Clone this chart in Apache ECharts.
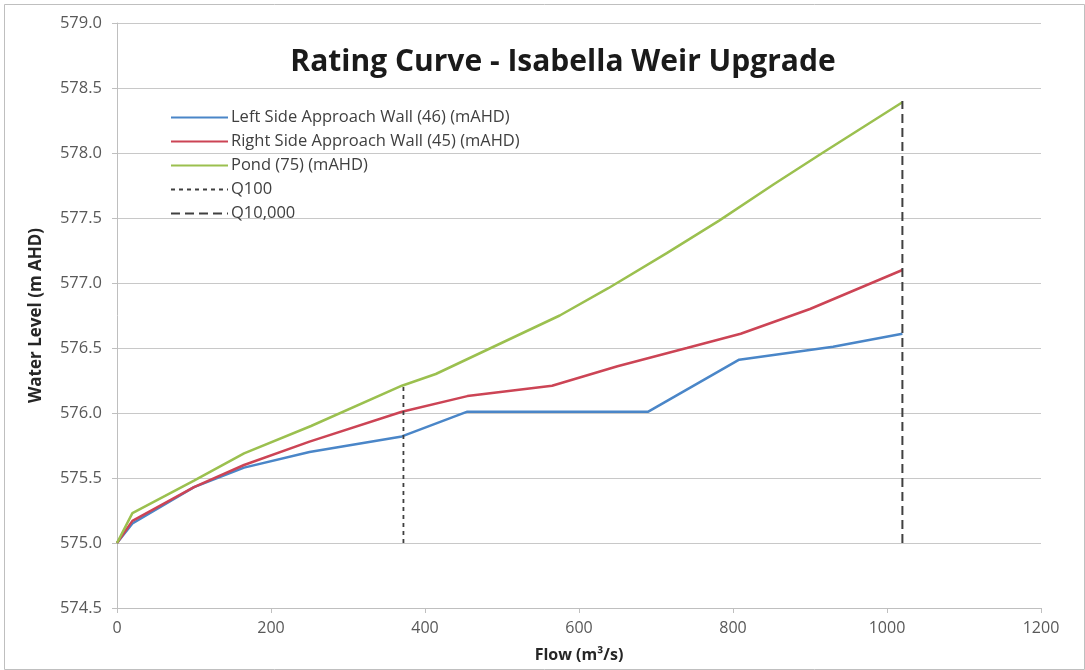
<!DOCTYPE html>
<html>
<head>
<meta charset="utf-8">
<script src="https://cdn.jsdelivr.net/npm/echarts@6/dist/echarts.min.js"></script>
<style>
html,body{margin:0;padding:0;background:#fff;}
#chart{width:1085px;height:670px;}
</style>
</head>
<body>
<div id="chart"></div>
<script>
// Flow (m3/s) and water levels (mAHD)
const leftFlow  = [0, 20, 100, 165, 250, 370, 455, 690, 808, 930, 1020];
const leftLevel = [575.0, 575.15, 575.43, 575.58, 575.70, 575.82, 576.01, 576.01, 576.41, 576.51, 576.61];

const rightFlow  = [0, 20, 100, 165, 250, 370, 455, 565, 650, 740, 810, 900, 1020];
const rightLevel = [575.0, 575.17, 575.43, 575.60, 575.78, 576.01, 576.13, 576.21, 576.36, 576.50, 576.61, 576.80, 577.10];

const pondFlow  = [0, 20, 100, 165, 252, 370, 414, 575, 638, 714, 782, 853, 916, 1020];
const pondLevel = [575.0, 575.23, 575.48, 575.69, 575.90, 576.21, 576.30, 576.75, 576.96, 577.23, 577.48, 577.76, 578.00, 578.39];

const q100Flow  = [372, 372];
const q100Level = [575.0, 576.22];
const q10kFlow  = [1020, 1020];
const q10kLevel = [575.0, 578.40];

const seriesNames = ['Left Side Approach Wall (46) (mAHD)', 'Right Side Approach Wall (45) (mAHD)', 'Pond (75) (mAHD)', 'Q100', 'Q10,000'];
const xTicks = {min: 0, max: 1200, interval: 200};
const yTicks = {min: 574.5, max: 579.0, interval: 0.5};

const zip = (a, b) => a.map((v, i) => [v, b[i]]);

const chart = echarts.init(document.getElementById('chart'));
const labelColor = '#595959';
const fontFam = 'Open Sans';
chart.setOption({
  backgroundColor: '#fff',
  animation: false,
  graphic: [{
    type: 'rect', left: 2, top: 2, shape: {width: 1080, height: 665},
    style: {fill: 'none', stroke: '#bfbfbf', lineWidth: 1}, silent: true
  }],
  title: {
    text: 'Rating Curve - Isabella Weir Upgrade',
    left: 558, top: 42, textAlign: 'center',
    textStyle: {fontFamily: fontFam, fontSize: 30, fontWeight: 'bold', color: '#1a1a1a'}
  },
  legend: {
    orient: 'vertical', left: 165, top: 104, itemWidth: 57, itemHeight: 14, itemGap: 7,
    data: seriesNames,
    itemStyle: {opacity: 0},
    textStyle: {fontFamily: fontFam, fontSize: 16.5, lineHeight: 17, color: '#404040', padding: [0,0,0,-2]}
  },
  grid: {left: 117, right: 44, top: 23, bottom: 62, containLabel: false},
  xAxis: {
    type: 'value', min: xTicks.min, max: xTicks.max, interval: xTicks.interval,
    name: 'Flow (m³/s)', nameLocation: 'middle', nameGap: 39,
    nameTextStyle: {fontFamily: fontFam, fontSize: 16, fontWeight: 'bold', color: '#262626'},
    axisLine: {show: true, lineStyle: {color: '#bfbfbf'}},
    axisTick: {show: true, length: 5, lineStyle: {color: '#bfbfbf'}},
    axisLabel: {fontFamily: fontFam, fontSize: 16, color: labelColor, margin: 12,
      formatter: v => String(v)},
    splitLine: {show: false}
  },
  yAxis: {
    type: 'value', min: yTicks.min, max: yTicks.max, interval: yTicks.interval,
    name: 'Water Level (m AHD)', nameLocation: 'middle', nameGap: 72, nameRotate: 90,
    nameTextStyle: {fontFamily: fontFam, fontSize: 17, fontWeight: 'bold', color: '#262626'},
    axisLine: {show: true, lineStyle: {color: '#bfbfbf'}},
    axisTick: {show: true, length: 5, lineStyle: {color: '#bfbfbf'}},
    axisLabel: {fontFamily: fontFam, fontSize: 16.5, color: labelColor, margin: 15,
      formatter: v => v.toFixed(1)},
    splitLine: {show: true, lineStyle: {color: '#c8c8c8', width: 1}}
  },
  series: [
    {name: seriesNames[0], type: 'line', data: zip(leftFlow, leftLevel), symbol: 'none',
     lineStyle: {color: '#4A86C8', width: 2.5}, itemStyle: {color: '#4A86C8'}, z: 3},
    {name: seriesNames[1], type: 'line', data: zip(rightFlow, rightLevel), symbol: 'none',
     lineStyle: {color: '#CC4455', width: 2.5}, itemStyle: {color: '#CC4455'}, z: 4},
    {name: seriesNames[2], type: 'line', data: zip(pondFlow, pondLevel), symbol: 'none',
     lineStyle: {color: '#9BC04F', width: 2.5}, itemStyle: {color: '#9BC04F'}, z: 5},
    {name: seriesNames[3], type: 'line', data: zip(q100Flow, q100Level), symbol: 'none',
     lineStyle: {color: '#404040', width: 1.8, type: [4, 4]}, itemStyle: {color: '#404040'}, z: 6},
    {name: seriesNames[4], type: 'line', data: zip(q10kFlow, q10kLevel), symbol: 'none',
     lineStyle: {color: '#404040', width: 2, type: [9, 5]}, itemStyle: {color: '#404040'}, z: 6}
  ]
});
</script>
</body>
</html>
